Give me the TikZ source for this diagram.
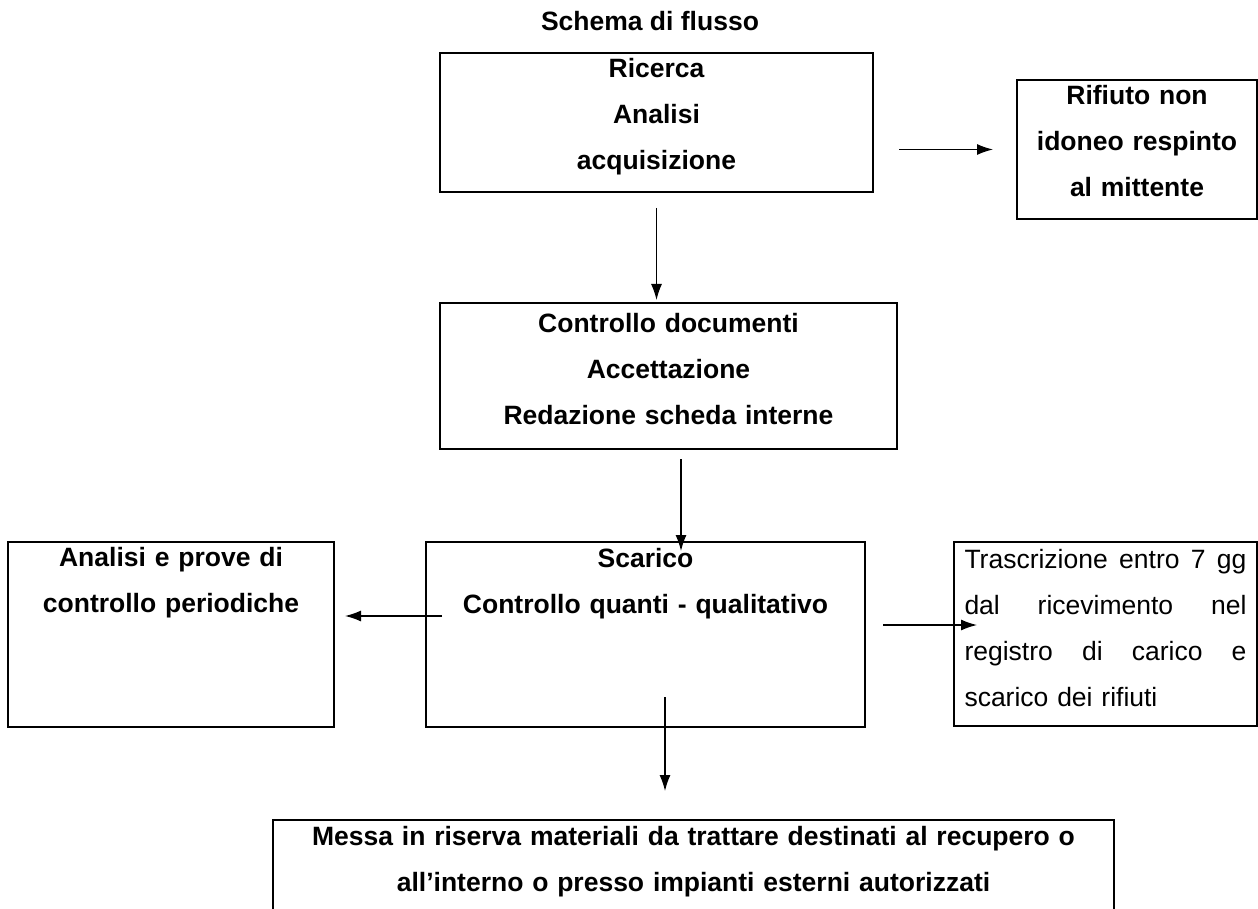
\documentclass[tikz,border=0pt]{standalone}
\usepackage{fontspec}
\setmainfont{Liberation Sans}
\setlength{\parindent}{0pt}
\usetikzlibrary{arrows.meta}

\begin{document}
\begin{tikzpicture}[x=0.5pt, y=-0.5pt,
  testo/.style={font=\fontsize{13.25}{23}\selectfont\bfseries},
  blocco/.style={testo, draw, line width=1pt, inner sep=0pt, align=center, anchor=north west},
  freccia/.style={-{Latex[length=8pt,width=5.5pt]}, line width=0.65pt}]
  \useasboundingbox (0,0) rectangle (1258,909);
  \node[testo, anchor=base] (titolo) at (650,31) {Schema di flusso};
  \node[blocco, text width=216.5pt, text height=12.5pt, text depth=57pt] (ricerca) at (439,52)
    {Ricerca\\ Analisi\\ acquisizione};
  \node[blocco, text width=120pt, text height=12.5pt, text depth=57pt] (rifiuto) at (1016,79)
    {Rifiuto non\\ idoneo respinto\\ al mittente};
  \node[blocco, text width=228.5pt, text height=14.5pt, text depth=58.5pt] (controllo) at (439,302)
    {Controllo documenti\\ Accettazione\\ Redazione scheda interne};
  \node[blocco, text width=163pt, text height=12pt, text depth=80.5pt] (analisi) at (7,541)
    {Analisi e prove di\\ controllo periodiche};
  \node[blocco, text width=219.5pt, text height=12.5pt, text depth=80pt] (scarico) at (425,541)
    {Scarico\\ Controllo quanti - qualitativo};
  \node[blocco, font=\fontsize{13.25}{23}\selectfont, align=left, inner xsep=5.25pt,
    text width=141pt, text height=13pt, text depth=79pt] (trascrizione) at (953,541)
    {Trascrizione\hfill entro\hfill 7\hfill gg\\
     dal\hfill ricevimento\hfill nel\\
     registro\hfill di\hfill carico\hfill e\\
     scarico dei rifiuti};
  \node[blocco, text width=420.5pt, text height=12.5pt, text depth=58pt] (riserva) at (272,819)
    {Messa in riserva materiali da trattare destinati al recupero o\\
     all’interno o presso impianti esterni autorizzati};
  \coordinate (c3) at ([xshift=6.25pt]controllo.south);
  \coordinate (c4) at ([yshift=9.25pt]scarico.west);
  \coordinate (c5) at ([yshift=4.75pt]scarico.east);
  \coordinate (c6) at ([xshift=9.75pt]scarico.south);
  \path[freccia]
  (ricerca.east |- rifiuto.west) edge [shorten <=12.5pt, shorten >=11.5pt] (rifiuto.west)
  (ricerca.south) edge [shorten <=7.5pt, shorten >=1pt] (ricerca.south |- controllo.north)
  (c3) edge [shorten <=4.5pt, shorten >=-5pt] (c3 |- scarico.north)
  (c4) edge [shorten <=-8.5pt, shorten >=5pt] (c4 -| analisi.east)
  (c5) edge [shorten <=8.5pt, shorten >=-12pt] (c5 -| trascrizione.west)
  (c6) edge [shorten <=-15.5pt, shorten >=14pt] (c6 |- riserva.north)
  ;
\end{tikzpicture}
\end{document}
